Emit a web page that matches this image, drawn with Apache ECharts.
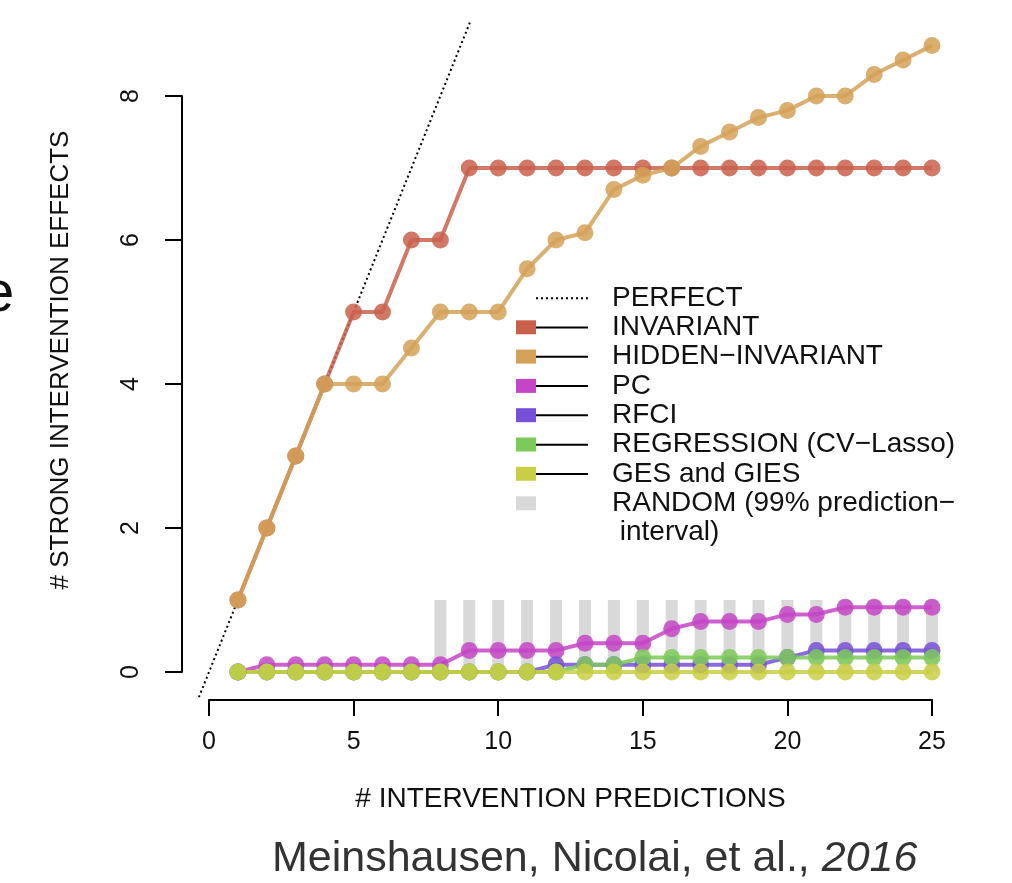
<!DOCTYPE html>
<html><head><meta charset="utf-8">
<script src="https://cdn.jsdelivr.net/npm/echarts@6/dist/echarts.min.js"></script>
<style>html,body{margin:0;padding:0;background:#fff}#c{width:1012px;height:883px}</style>
</head><body><div id="c"></div>
<script>
// ---- data ----
const predictions = [1,2,3,4,5,6,7,8,9,10,11,12,13,14,15,16,17,18,19,20,21,22,23,24,25];
const invariant = [1,2,3,4,5,5,6,6,7,7,7,7,7,7,7,7,7,7,7,7,7,7,7,7,7];
const hiddenInvariant = [1,2,3,4,4,4,4.5,5,5,5,5.6,6,6.1,6.7,6.9,7,7.3,7.5,7.7,7.8,8,8,8.3,8.5,8.7];
const pc = [0,0.1,0.1,0.1,0.1,0.1,0.1,0.1,0.3,0.3,0.3,0.3,0.4,0.4,0.4,0.6,0.7,0.7,0.7,0.8,0.8,0.9,0.9,0.9,0.9];
const rfci = [0,0,0,0,0,0,0,0,0,0,0,0.1,0.1,0.1,0.1,0.1,0.1,0.1,0.1,0.2,0.3,0.3,0.3,0.3,0.3];
const regression = [0,0,0,0,0,0,0,0,0,0,0,0,0.1,0.1,0.2,0.2,0.2,0.2,0.2,0.2,0.2,0.2,0.2,0.2,0.2];
const gesGies = [0,0,0,0,0,0,0,0,0,0,0,0,0,0,0,0,0,0,0,0,0,0,0,0,0];
const randomX = [8,9,10,11,12,13,14,15,16,17,18,19,20,21,22,23,24,25];
const randomUpper = [1,1,1,1,1,1,1,1,1,1,1,1,1,1,1,1,1,1];
const perfectExtent = [-0.35, 9.05];
// plot region (R-style) and the visible axis range
const plotX = [-1, 26], plotY = [-0.35, 9.05];
const axisX = [0, 25], axisY = [0, 8];
const xTickInterval = 5, yTickInterval = 2;
const seriesNames = ['PERFECT','INVARIANT','HIDDEN\u2212INVARIANT','PC','RFCI','REGRESSION (CV\u2212Lasso)','GES and GIES','RANDOM (99% prediction\u2212\n interval)'];
const xTitle = '# INTERVENTION PREDICTIONS';
const yTitle = '# STRONG INTERVENTION EFFECTS';

// ---- styling ----
const FONT = '"Liberation Sans", Arial, Helvetica, sans-serif';
const colors = ['#000000','#c9604c','#d3a157','#c445c6','#7650d8','#7cca58','#c9cf44','#d9d9d9'];

// axis frame (pixels) for the visible axes
const AX = {left: 209, right: 932, top: 96, bottom: 672};
const pxX = (AX.right - AX.left) / (axisX[1] - axisX[0]);
const pxY = (AX.bottom - AX.top) / (axisY[1] - axisY[0]);
const W = 1012, H = 883;
const dataGrid = {
  left: AX.left - (axisX[0] - plotX[0]) * pxX,
  right: W - (AX.right + (plotX[1] - axisX[1]) * pxX),
  top: AX.top - (plotY[1] - axisY[1]) * pxY,
  bottom: H - (AX.bottom + (axisY[0] - plotY[0]) * pxY)
};
const axisGrid = {left: AX.left, right: W - AX.right, top: AX.top, bottom: H - AX.bottom};

const pairs = (xs, ys) => xs.map((x, i) => [x, ys[i]]);

function lineSeries(idx, values) {
  return {
    name: seriesNames[idx], type: 'line', data: pairs(predictions, values),
    xAxisIndex: 0, yAxisIndex: 0,
    clip: false, symbol: 'circle', symbolSize: 17, showAllSymbol: true,
    lineStyle: {color: colors[idx], width: 4, opacity: 0.85},
    itemStyle: {color: colors[idx], opacity: 0.85},
    emphasis: {disabled: true}, z: 3
  };
}

const chart = echarts.init(document.getElementById('c'), null, {renderer: 'canvas'});

const legendTop = 283.5, rowH = 29.3;
const rowC = i => legendTop + rowH / 2 + rowH * i;
const graphics = [];
graphics.push({type: 'line', shape: {x1: 536, y1: rowC(0), x2: 588, y2: rowC(0)},
  style: {stroke: '#000', lineWidth: 2, lineDash: [2, 3]}});
for (let i = 1; i <= 6; i++) {
  graphics.push({type: 'line', shape: {x1: 536, y1: rowC(i), x2: 588, y2: rowC(i)},
    style: {stroke: '#000', lineWidth: 2}});
}
graphics.push({type: 'rect', shape: {x: 516, y: rowC(7) - 7, width: 20, height: 14},
  style: {fill: colors[7]}});
graphics.push({type: 'text', x: -18, y: 266,
  style: {text: 'e', font: '58px ' + FONT, fill: '#111', verticalAlign: 'top'}});

const hiddenAxis = {show: false, axisLine: {show: false}, axisTick: {show: false}, axisLabel: {show: false}, splitLine: {show: false}};

const option = {
  animation: false,
  backgroundColor: '#fff',
  title: {
    text: '{a|Meinshausen, Nicolai, et al., }{b|2016}',
    left: 272, top: 838, padding: 0,
    textStyle: {fontWeight: 'normal', rich: {
      a: {fontSize: 43, fontFamily: FONT, fontWeight: 'normal', color: '#333'},
      b: {fontSize: 43, fontFamily: FONT, fontWeight: 'normal', fontStyle: 'italic', color: '#333'}
    }}
  },
  grid: [
    Object.assign({containLabel: false}, dataGrid),
    Object.assign({containLabel: false}, axisGrid)
  ],
  xAxis: [
    Object.assign({type: 'value', gridIndex: 0, min: plotX[0], max: plotX[1]}, hiddenAxis),
    {
      type: 'value', gridIndex: 1, min: axisX[0], max: axisX[1], interval: xTickInterval, offset: 28,
      name: xTitle, nameLocation: 'middle', nameGap: 85,
      nameTextStyle: {fontSize: 28, fontFamily: FONT, color: '#111'},
      axisLine: {show: true, onZero: false, lineStyle: {color: '#000', width: 2}},
      axisTick: {show: true, length: 16, lineStyle: {color: '#000', width: 2}},
      axisLabel: {margin: 30, fontSize: 25, fontFamily: FONT, color: '#111'},
      splitLine: {show: false}
    }
  ],
  yAxis: [
    Object.assign({type: 'value', gridIndex: 0, min: plotY[0], max: plotY[1]}, hiddenAxis),
    {
      type: 'value', gridIndex: 1, min: axisY[0], max: axisY[1], interval: yTickInterval, offset: 27,
      name: yTitle, nameLocation: 'middle', nameGap: 108,
      nameTextStyle: {fontSize: 26, fontFamily: FONT, color: '#111', padding: [0, 0, 0, 48]},
      axisLine: {show: true, onZero: false, lineStyle: {color: '#000', width: 2}},
      axisTick: {show: true, length: 17, lineStyle: {color: '#000', width: 2}},
      axisLabel: {margin: 38, rotate: 90, fontSize: 25, fontFamily: FONT, color: '#111'},
      splitLine: {show: false}
    }
  ],
  legend: {
    orient: 'vertical', left: 516, top: legendTop, padding: 0,
    itemWidth: 20, itemHeight: 14, itemGap: 0.3, icon: 'rect', selectedMode: false,
    textStyle: {fontSize: 28, fontFamily: FONT, color: '#111', lineHeight: 29, padding: [0, 0, 0, 71]},
    data: seriesNames.map((n, i) => ({
      name: n,
      itemStyle: {color: (i === 0 || i === 7) ? 'rgba(0,0,0,0)' : colors[i], opacity: 1, borderWidth: 0}
    }))
  },
  graphic: graphics,
  series: [
    {
      name: seriesNames[7], type: 'bar', data: pairs(randomX, randomUpper),
      xAxisIndex: 0, yAxisIndex: 0,
      barWidth: 12, itemStyle: {color: colors[7]}, z: 1, emphasis: {disabled: true}
    },
    {
      name: seriesNames[0], type: 'line', data: pairs(perfectExtent, perfectExtent),
      xAxisIndex: 0, yAxisIndex: 0,
      clip: false, symbol: 'none', z: 2,
      lineStyle: {color: '#000', width: 2, type: [2, 3]}, itemStyle: {color: '#000'},
      emphasis: {disabled: true}
    },
    lineSeries(1, invariant),
    lineSeries(2, hiddenInvariant),
    lineSeries(3, pc),
    lineSeries(4, rfci),
    lineSeries(5, regression),
    lineSeries(6, gesGies)
  ]
};
chart.setOption(option);
</script>
</body></html>
